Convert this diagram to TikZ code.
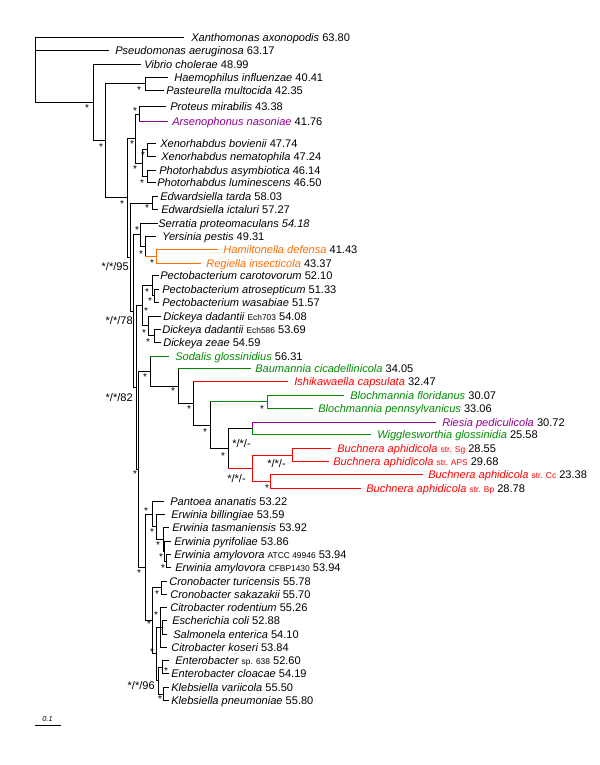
\documentclass[tikz,border=0pt]{standalone}
\usepackage{fontspec}
\setmainfont{Liberation Sans}
\definecolor{cpur}{RGB}{145,0,145}
\definecolor{cora}{RGB}{255,110,0}
\definecolor{cgrn}{RGB}{0,140,0}
\definecolor{cred}{RGB}{255,0,0}
\newcommand\hb[3][black]{\draw[br,#1] (#2 |- #3) -- (#3);}
\newcommand\vb[4][black]{\draw[br,#1] (#2 |- #3) -- (#2 |- #4);}
\newcommand\lf[5]{\coordinate (t#1) at (#2,#3); \node[lab] (l#1) at (#4,#3+4) {#5};}
\newcommand\sm[1]{{\fontsize{6.3}{7}\selectfont #1}}
\newcommand\st[3]{\node[starl] (s#1) at (#2,#3+2.4) {*};}
\newcommand\itx[1]{{\itshape #1}}
\begin{document}
\begin{tikzpicture}[x=0.75pt,y=-0.75pt,
  br/.style={line width=0.75pt, line cap=rect},
  lab/.style={anchor=base west, inner sep=0pt, font=\fontsize{8.3}{9}\selectfont},
  starl/.style={anchor=center, inner sep=0pt, font=\fontsize{7.5}{8}\selectfont},
  suplab/.style={anchor=base east, inner sep=0pt, font=\fontsize{8.3}{9}\selectfont}]
\useasboundingbox[fill=white] (0,0) rectangle (600,765);
% ---------- leaves ----------
\lf{Xan}{183}{37.3}{191}{\itx{Xanthomonas axonopodis} 63.80}
\lf{Pse}{108}{50.7}{115}{\itx{Pseudomonas aeruginosa} 63.17}
\lf{Vib}{140}{64.3}{144}{\itx{Vibrio cholerae} 48.99}
\lf{Hae}{167}{77.3}{174}{\itx{Haemophilus influenzae} 40.41}
\lf{Pas}{163}{90}{166}{\itx{Pasteurella multocida} 42.35}
\lf{Pro}{165}{106.7}{170}{\itx{Proteus mirabilis} 43.38}
\lf{Ars}{167}{121.7}{172}{\textcolor{cpur}{\itx{Arsenophonus nasoniae}} 41.76}
\lf{Xb}{155}{143.3}{160}{\itx{Xenorhabdus bovienii} 47.74}
\lf{Xn}{155}{156}{161}{\itx{Xenorhabdus nematophila} 47.24}
\lf{Pay}{155}{170}{159}{\itx{Photorhabdus asymbiotica} 46.14}
\lf{Plu}{155}{182.7}{157}{\itx{Photorhabdus luminescens} 46.50}
\lf{Eta}{157}{196.3}{160}{\itx{Edwardsiella tarda} 58.03}
\lf{Eic}{157}{209.7}{161}{\itx{Edwardsiella ictaluri} 57.27}
\lf{Ser}{157}{223}{158}{\itx{Serratia proteomaculans 54.18}}
\lf{Yer}{155}{236.3}{162}{\itx{Yersinia pestis} 49.31}
\lf{Ham}{217}{249.3}{223}{\textcolor{cora}{\itx{Hamiltonella defensa}} 41.43}
\lf{Reg}{200}{263}{206}{\textcolor{cora}{\itx{Regiella insecticola}} 43.37}
\lf{Pca}{158}{275.7}{160}{\itx{Pectobacterium carotovorum} 52.10}
\lf{Pat}{158}{289}{162}{\itx{Pectobacterium atrosepticum} 51.33}
\lf{Pwa}{158}{302.3}{162}{\itx{Pectobacterium wasabiae} 51.57}
\lf{Dda}{160}{316}{163}{\itx{Dickeya dadantii} \sm{Ech703} 54.08}
\lf{Ddb}{160}{329}{162}{\itx{Dickeya dadantii} \sm{Ech586} 53.69}
\lf{Dze}{160}{342}{163}{\itx{Dickeya zeae} 54.59}
\lf{Sod}{168}{356.7}{175}{\textcolor{cgrn}{\itx{Sodalis glossinidius}} 56.31}
\lf{Bau}{250}{368.7}{255}{\textcolor{cgrn}{\itx{Baumannia cicadellinicola}} 34.05}
\lf{Ish}{287}{381.7}{294}{\textcolor{cred}{\itx{Ishikawaella capsulata}} 32.47}
\lf{Bfl}{343}{395.3}{350}{\textcolor{cgrn}{\itx{Blochmannia floridanus}} 30.07}
\lf{Bpe}{312}{408}{318}{\textcolor{cgrn}{\itx{Blochmannia pennsylvanicus}} 33.06}
\lf{Rie}{435}{422.3}{442}{\textcolor{cpur}{\itx{Riesia pediculicola}} 30.72}
\lf{Wig}{370}{434.7}{377}{\textcolor{cgrn}{\itx{Wigglesworthia glossinidia}} 25.58}
\lf{Bsg}{330}{448.3}{337}{\textcolor{cred}{\itx{Buchnera aphidicola} \sm{str. Sg}} 28.55}
\lf{Bap}{328}{461.7}{333}{\textcolor{cred}{\itx{Buchnera aphidicola} \sm{str. APS}} 29.68}
\lf{Bcc}{422}{474.7}{428}{\textcolor{cred}{\itx{Buchnera aphidicola} \sm{str. Cc}} 23.38}
\lf{Bbp}{360}{488.3}{366}{\textcolor{cred}{\itx{Buchnera aphidicola} \sm{str. Bp}} 28.78}
\lf{Pan}{163}{501.3}{170}{\itx{Pantoea ananatis} 53.22}
\lf{Ebi}{164}{514.3}{171}{\itx{Erwinia billingiae} 53.59}
\lf{Ets}{168}{527.7}{172}{\itx{Erwinia tasmaniensis} 53.92}
\lf{Epy}{170}{541}{174}{\itx{Erwinia pyrifoliae} 53.86}
\lf{Eaa}{170}{554.3}{174}{\itx{Erwinia amylovora} \sm{ATCC 49946} 53.94}
\lf{Eab}{170}{567.7}{175}{\itx{Erwinia amylovora} \sm{CFBP1430} 53.94}
\lf{Ctu}{166}{581}{169}{\itx{Cronobacter turicensis} 55.78}
\lf{Csa}{166}{594.3}{170}{\itx{Cronobacter sakazakii} 55.70}
\lf{Cro}{166}{607.3}{170}{\itx{Citrobacter rodentium} 55.26}
\lf{Eco}{166}{620.7}{172}{\itx{Escherichia coli} 52.88}
\lf{Sal}{166}{634}{173}{\itx{Salmonela enterica} 54.10}
\lf{Cko}{166}{647.3}{171}{\itx{Citrobacter koseri} 53.84}
\lf{Esp}{168}{660.7}{175}{\itx{Enterobacter} \sm{sp. 638} 52.60}
\lf{Ecl}{168}{673.3}{171}{\itx{Enterobacter cloacae} 54.19}
\lf{Kva}{168}{687.3}{171}{\itx{Klebsiella variicola} 55.50}
\lf{Kpn}{168}{700.7}{171}{\itx{Klebsiella pneumoniae} 55.80}
% ---------- internal nodes ----------
\coordinate (nR) at (35,70);
\coordinate (nA) at (93,102.5);
\coordinate (nB) at (105,140.7);
\coordinate (nHae) at (145,83.65);
\coordinate (nPA) at (139,114.2);
\coordinate (nXe) at (147,149.65);
\coordinate (nPh) at (147,176.35);
\coordinate (nXP) at (142,163);
\coordinate (nM) at (135,138.6);
\coordinate (nEd) at (152,203);
\coordinate (nHR) at (156,256.15);
\coordinate (nYHR) at (145,246.2);
\coordinate (nSYHR) at (140,234.6);
\coordinate (nPatw) at (154,295.65);
\coordinate (nPec) at (152,285.7);
\coordinate (nDz) at (154,335.5);
\coordinate (nDick) at (148,325.75);
\coordinate (nPD) at (142,305.7);
\coordinate (nBl) at (267,401.65);
\coordinate (nRW) at (252,428.5);
\coordinate (nSgA) at (292,455);
\coordinate (nCcBp) at (270,481.5);
\coordinate (nBu) at (252,468.25);
\coordinate (nSf) at (228,448.4);
\coordinate (nSd) at (210,425);
\coordinate (nSc) at (193,403.35);
\coordinate (nSb) at (178,386);
\coordinate (nSC) at (150,371.35);
\coordinate (nErd) at (166,561);
\coordinate (nErc) at (164,551);
\coordinate (nErb) at (163,539.35);
\coordinate (nEra) at (156,526.8);
\coordinate (nPE) at (152,514.05);
\coordinate (nCr) at (161,587.65);
\coordinate (nES) at (162.5,627.35);
\coordinate (nCE) at (160,627.3);
\coordinate (nEn) at (162,667);
\coordinate (nKl) at (163,694);
\coordinate (nEK) at (158,680.5);
\coordinate (nY) at (156,653.9);
\coordinate (nX) at (152,620.8);
\coordinate (nEf) at (145,567.4);
\coordinate (nEe) at (138.5,469.4);
\coordinate (nEd4) at (136,387.55);
\coordinate (nEc) at (133,311.1);
\coordinate (nEb) at (130.5,257.05);
\coordinate (nE) at (127.5,197.8);
% ---------- branches ----------
\vb{nR}{tXan}{nA} \hb{nR}{tXan} \hb{nR}{tPse} \hb{nR}{nA}
\vb{nA}{tVib}{nB} \hb{nA}{tVib} \hb{nA}{nB}
\vb{nB}{nHae}{nE} \hb{nB}{nHae} \hb{nB}{nE}
\vb{nHae}{tHae}{tPas} \hb{nHae}{tHae} \hb{nHae}{tPas}
\vb{nE}{nM}{nEb} \hb{nE}{nM} \hb{nE}{nEb}
\vb{nM}{nPA}{nXP} \hb{nM}{nPA} \hb{nM}{nXP}
\vb{nPA}{tPro}{tArs} \hb{nPA}{tPro} \hb[cpur]{nPA}{tArs}
\vb{nXP}{nXe}{nPh} \hb{nXP}{nXe} \hb{nXP}{nPh}
\vb{nXe}{tXb}{tXn} \hb{nXe}{tXb} \hb{nXe}{tXn}
\vb{nPh}{tPay}{tPlu} \hb{nPh}{tPay} \hb{nPh}{tPlu}
\vb{nEb}{nEd}{nEc} \hb{nEb}{nEd} \hb{nEb}{nEc}
\vb{nEd}{tEta}{tEic} \hb{nEd}{tEta} \hb{nEd}{tEic}
\vb{nEc}{nSYHR}{nEd4} \hb{nEc}{nSYHR} \hb{nEc}{nEd4}
\vb{nSYHR}{tSer}{nYHR} \hb{nSYHR}{tSer} \hb{nSYHR}{nYHR}
\vb{nYHR}{tYer}{nHR} \hb{nYHR}{tYer} \hb[cora]{nYHR}{nHR}
\vb[cora]{nHR}{tHam}{tReg} \hb[cora]{nHR}{tHam} \hb[cora]{nHR}{tReg}
\vb{nEd4}{nPD}{nEe} \hb{nEd4}{nPD} \hb{nEd4}{nEe}
\vb{nPD}{nPec}{nDick} \hb{nPD}{nPec} \hb{nPD}{nDick}
\vb{nPec}{tPca}{nPatw} \hb{nPec}{tPca} \hb{nPec}{nPatw}
\vb{nPatw}{tPat}{tPwa} \hb{nPatw}{tPat} \hb{nPatw}{tPwa}
\vb{nDick}{tDda}{nDz} \hb{nDick}{tDda} \hb{nDick}{nDz}
\vb{nDz}{tDdb}{tDze} \hb{nDz}{tDdb} \hb{nDz}{tDze}
\vb{nEe}{nSC}{nEf} \hb{nEe}{nSC} \hb{nEe}{nEf}
\vb{nSC}{tSod}{nSb} \hb[cgrn]{nSC}{tSod} \hb{nSC}{nSb}
\vb{nSb}{tBau}{nSc} \hb[cgrn]{nSb}{tBau} \hb{nSb}{nSc}
\vb{nSc}{tIsh}{nSd} \hb[cred]{nSc}{tIsh} \hb{nSc}{nSd}
\vb{nSd}{nBl}{nSf} \hb[cgrn]{nSd}{nBl} \hb{nSd}{nSf}
\vb[cgrn]{nBl}{tBfl}{tBpe} \hb[cgrn]{nBl}{tBfl} \hb[cgrn]{nBl}{tBpe}
\vb{nSf}{nRW}{nBu} \hb{nSf}{nRW} \hb[cred]{nSf}{nBu}
\draw[br,cpur] (nRW |- tRie) -- (nRW);
\draw[br,cgrn] (nRW) -- (nRW |- tWig);
\hb[cpur]{nRW}{tRie} \hb[cgrn]{nRW}{tWig}
\vb[cred]{nBu}{nSgA}{nCcBp} \hb[cred]{nBu}{nSgA} \hb[cred]{nBu}{nCcBp}
\vb[cred]{nSgA}{tBsg}{tBap} \hb[cred]{nSgA}{tBsg} \hb[cred]{nSgA}{tBap}
\vb[cred]{nCcBp}{tBcc}{tBbp} \hb[cred]{nCcBp}{tBcc} \hb[cred]{nCcBp}{tBbp}
\vb{nEf}{nPE}{nX} \hb{nEf}{nPE} \hb{nEf}{nX}
\vb{nPE}{tPan}{nEra} \hb{nPE}{tPan} \hb{nPE}{nEra}
\vb{nEra}{tEbi}{nErb} \hb{nEra}{tEbi} \hb{nEra}{nErb}
\vb{nErb}{tEts}{nErc} \hb{nErb}{tEts} \hb{nErb}{nErc}
\vb{nErc}{tEpy}{nErd} \hb{nErc}{tEpy} \hb{nErc}{nErd}
\vb{nErd}{tEaa}{tEab} \hb{nErd}{tEaa} \hb{nErd}{tEab}
\vb{nX}{nCr}{nY} \hb{nX}{nCr} \hb{nX}{nY}
\vb{nCr}{tCtu}{tCsa} \hb{nCr}{tCtu} \hb{nCr}{tCsa}
\vb{nY}{nCE}{nEK} \hb{nY}{nCE} \hb{nY}{nEK}
\vb{nCE}{tCro}{tCko} \hb{nCE}{tCro} \hb{nCE}{nES} \hb{nCE}{tCko}
\vb{nES}{tEco}{tSal} \hb{nES}{tEco} \hb{nES}{tSal}
\vb{nEK}{nEn}{nKl} \hb{nEK}{nEn} \hb{nEK}{nKl}
\vb{nEn}{tEsp}{tEcl} \hb{nEn}{tEsp} \hb{nEn}{tEcl}
\vb{nKl}{tKva}{tKpn} \hb{nKl}{tKva} \hb{nKl}{tKpn}
% ---------- support stars ----------
\st{A}{87}{106} \st{B}{101}{145} \st{Hae}{139}{88} \st{PA}{135}{109}
\st{M}{132}{142} \st{XP}{135}{167} \st{Xe}{143}{153} \st{Ph}{142}{181}
\st{E}{122}{202} \st{Ed}{147}{206} \st{SYHR}{137}{228} \st{YHR}{141}{252}
\st{HR}{152}{261} \st{Pec}{147}{290} \st{Patw}{150}{299} \st{PD}{146}{309}
\st{Dick}{144}{331} \st{Dz}{148}{340} \st{SC}{145}{375} \st{Sb}{173}{389}
\st{Sc}{189}{407} \st{Sd}{205}{430} \st{Bl}{262}{407} \st{Sf}{223}{454}
\st{CcBp}{267}{486} \st{Ee}{135}{472} \st{Ef}{139}{571} \st{PE}{146}{509}
\st{Era}{152}{530} \st{Erb}{158}{543} \st{Erc}{161}{555} \st{Erd}{163}{566}
\st{Cr}{157}{592} \st{X}{149}{622} \st{CE}{156}{613} \st{Y}{152}{650}
\st{En}{166}{669} \st{Kl}{160}{697}
% ---------- support labels ----------
\node[suplab] (sup95) at (129,266+4) {*/*/95};
\node[suplab] (sup78) at (133,320+4) {*/*/78};
\node[suplab] (sup82) at (133,397+4) {*/*/82};
\node[suplab] (supRW) at (251,443+4) {*/*/-};
\node[suplab] (supSgA) at (286,463+4) {*/*/-};
\node[suplab] (supBu) at (246,478+4) {*/*/-};
\node[suplab] (sup96) at (155,685+4) {*/*/96};
% ---------- scale bar ----------
\coordinate (sbL) at (35,725);
\coordinate (sbR) at (60,725);
\draw[br] (sbL) -- (sbR);
\node[anchor=base, inner sep=0pt, font=\fontsize{5.5}{6}\selectfont\itshape] (sbT) at (47.5,721) {0.1};
\end{tikzpicture}
\end{document}
